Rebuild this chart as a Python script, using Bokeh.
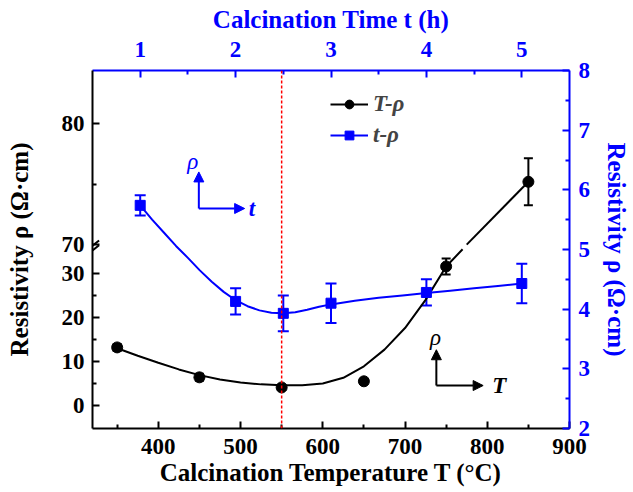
from bokeh.plotting import figure
from bokeh.models import (Range1d, LinearAxis, FixedTicker, Whisker, ColumnDataSource,
                          Span, Arrow, NormalHead, TeeHead, Label, Legend, LegendItem)
from bokeh.embed import file_html
from bokeh.resources import INLINE

# ---------------- data ----------------
# resistivity vs calcination temperature (left axis, broken)
temp_T = [350, 450, 550, 650, 750]
temp_rho = [13.2, 6.4, 4.1, 5.5, 31.6]
temp_err = [0.8, 0.8, 0.6, 0.6, 1.8]
temp_T_high = [850]
temp_rho_high = [75.2]
temp_err_high = [1.95]
# smooth guide curve (lower and upper segments)
fit_T_low = [350, 375, 400, 425, 450, 475, 500, 525, 550, 575, 600, 625, 650, 675, 700,
             725, 750, 770]
fit_rho_low = [13.0, 11.3, 9.7, 8.2, 6.9, 5.9, 5.2, 4.8, 4.6, 4.6, 5.0, 6.3, 8.9, 12.7,
               17.6, 24.0, 31.6, 35.5]
fit_T_high = [775, 850]
fit_rho_high = [70.0, 75.2]

# resistivity vs calcination time (right axis)
time_t = [1, 2, 2.5, 3, 4, 5]
time_rho = [5.74, 4.13, 3.93, 4.10, 4.28, 4.43]
time_err = [0.17, 0.22, 0.30, 0.33, 0.22, 0.33]
fit_t = [1.0, 1.125, 1.25, 1.375, 1.5, 1.625, 1.75, 1.875, 2.0, 2.125, 2.25, 2.375, 2.5,
         2.625, 2.75, 2.875, 3.0, 3.25, 3.5, 3.75, 4.0, 4.25, 4.5, 4.75, 5.0]
fit_rho_t = [5.74, 5.50, 5.28, 5.06, 4.86, 4.65, 4.46, 4.29, 4.15, 4.05, 3.98, 3.94, 3.93,
             3.95, 3.99, 4.04, 4.08, 4.14, 4.19, 4.23, 4.27, 4.31, 4.35, 4.39, 4.43]

# ticks
T_ticks = [400, 500, 600, 700, 800, 900]
T_minor = [350, 450, 550, 650, 750, 850]
t_ticks = [1, 2, 3, 4, 5]
t_minor = [1.5, 2.5, 3.5, 4.5]
right_ticks = [2, 3, 4, 5, 6, 7, 8]
right_minor = [2.5, 3.5, 4.5, 5.5, 6.5, 7.5]
low_ticks = [0, 10, 20, 30]
low_minor = [5, 15, 25]
high_ticks = [70, 80]
high_minor = [75]
optimum_T = 550

# ---------------- ranges ----------------
T_range = Range1d(320, 900)
t_range = Range1d(0.5, 5.5)
right_range = Range1d(2, 8)
low_range = Range1d(-5.23, 76.14)
high_range = Range1d(54.8, 84.4)


def high_to_low(v):
    frac = (v - high_range.start) / (high_range.end - high_range.start)
    return round(low_range.start + frac * (low_range.end - low_range.start), 3)


SERIF = "Liberation Serif"
BLUE = "#0000ff"

p = figure(width=633, height=492, x_range=T_range, y_range=right_range,
           output_backend="svg", toolbar_location=None,
           x_axis_location=None, y_axis_location=None,
           min_border_left=92, min_border_right=62, min_border_top=70, min_border_bottom=64)
p.extra_x_ranges = {"time": t_range}
p.extra_y_ranges = {"low": low_range, "high": high_range}
p.grid.visible = False
p.outline_line_color = None


def style_axis(ax, color, standoff, label_standoff, lh=1.0):
    ax.axis_line_color = color
    ax.axis_line_width = 2
    ax.major_tick_line_color = color
    ax.minor_tick_line_color = color
    ax.major_tick_line_width = 2
    ax.minor_tick_line_width = 2
    ax.major_tick_in = 7
    ax.major_tick_out = 0
    ax.minor_tick_in = 4
    ax.minor_tick_out = 0
    ax.major_label_text_color = color
    ax.major_label_text_font = SERIF
    ax.major_label_text_font_style = "bold"
    ax.major_label_text_font_size = "23px"
    ax.major_label_text_line_height = lh
    ax.major_label_standoff = standoff
    ax.axis_label_text_color = color
    ax.axis_label_text_font = SERIF
    ax.axis_label_text_font_style = "bold"
    ax.axis_label_text_font_size = "25px"
    ax.axis_label_text_line_height = lh
    ax.axis_label_standoff = label_standoff


bottom = LinearAxis(ticker=FixedTicker(ticks=T_ticks, minor_ticks=T_minor),
                    axis_label="Calcination Temperature T (°C)")
style_axis(bottom, "black", 10, 2)
p.add_layout(bottom, "below")

top = LinearAxis(x_range_name="time", ticker=FixedTicker(ticks=t_ticks, minor_ticks=t_minor),
                 axis_label="Calcination Time t (h)")
style_axis(top, BLUE, 14, 6, lh=0.8)
p.add_layout(top, "above")

left_major = low_ticks + [high_to_low(v) for v in high_ticks]
left_minor = low_minor + [high_to_low(v) for v in high_minor]
overrides = {high_to_low(v): str(v) for v in high_ticks}
left = LinearAxis(y_range_name="low",
                  ticker=FixedTicker(ticks=left_major, minor_ticks=left_minor),
                  major_label_overrides=overrides,
                  axis_label="Resistivity ρ (Ω·cm)")
style_axis(left, "black", 8, 26)
p.add_layout(left, "left")

right = LinearAxis(ticker=FixedTicker(ticks=right_ticks, minor_ticks=right_minor),
                   axis_label="Resistivity ρ (Ω·cm)")
style_axis(right, BLUE, 9, 10)
p.add_layout(right, "right")

# dashed marker line at the optimum
p.add_layout(Span(location=optimum_T, dimension="height", line_color="red",
                  line_dash="3 2", line_width=1.5))

# axis-break marks on the left axis (inner halves)
p.segment(x0=[320, 320], y0=[5.063, 4.984], x1=[328, 328], y1=[5.15, 5.07],
          line_color="black", line_width=2)

# ---------------- temperature series ----------------
l_low = p.line(fit_T_low, fit_rho_low, y_range_name="low", line_color="black", line_width=2)
p.line(fit_T_high, fit_rho_high, y_range_name="high", line_color="black", line_width=2)

src_low = ColumnDataSource(dict(x=temp_T, y=temp_rho,
                                lo=[a - b for a, b in zip(temp_rho, temp_err)],
                                hi=[a + b for a, b in zip(temp_rho, temp_err)]))
src_high = ColumnDataSource(dict(x=temp_T_high, y=temp_rho_high,
                                 lo=[a - b for a, b in zip(temp_rho_high, temp_err_high)],
                                 hi=[a + b for a, b in zip(temp_rho_high, temp_err_high)]))
for src, rn in ((src_low, "low"), (src_high, "high")):
    p.add_layout(Whisker(source=src, base="x", lower="lo", upper="hi", y_range_name=rn,
                         line_color="black", line_width=2,
                         upper_head=TeeHead(size=9, line_color="black", line_width=2),
                         lower_head=TeeHead(size=9, line_color="black", line_width=2)))
s_low = p.scatter("x", "y", source=src_low, y_range_name="low", marker="circle", size=11,
                  fill_color="black", line_color="black")
p.scatter("x", "y", source=src_high, y_range_name="high", marker="circle", size=11,
          fill_color="black", line_color="black")

# ---------------- time series ----------------
l_t = p.line(fit_t, fit_rho_t, x_range_name="time", line_color=BLUE, line_width=2)
src_t = ColumnDataSource(dict(x=time_t, y=time_rho,
                              lo=[a - b for a, b in zip(time_rho, time_err)],
                              hi=[a + b for a, b in zip(time_rho, time_err)]))
p.add_layout(Whisker(source=src_t, base="x", lower="lo", upper="hi", x_range_name="time",
                     line_color=BLUE, line_width=2,
                     upper_head=TeeHead(size=11, line_color=BLUE, line_width=2),
                     lower_head=TeeHead(size=11, line_color=BLUE, line_width=2)))
s_t = p.scatter("x", "y", source=src_t, x_range_name="time", marker="square", size=10,
                fill_color=BLUE, line_color=BLUE)

# ---------------- legend ----------------
legend = Legend(items=[LegendItem(label="T-ρ", renderers=[l_low, s_low]),
                       LegendItem(label="t-ρ", renderers=[l_t, s_t])],
                location=(238, 280), glyph_width=38, glyph_height=22, spacing=5,
                padding=0, margin=0, label_standoff=5, border_line_color=None,
                background_fill_alpha=0,
                label_text_font=SERIF, label_text_font_style="bold italic",
                label_text_font_size="23px")
p.add_layout(legend)

# ---------------- direction arrows ----------------
def arrow(x0, y0, x1, y1, color):
    p.add_layout(Arrow(x_start=x0, y_start=y0, x_end=x1, y_end=y1, line_color=color,
                       line_width=2, end=NormalHead(size=10, line_color=color,
                                                    fill_color=color, line_width=1)))

arrow(449.3, 5.687, 449.3, 6.30, BLUE)
arrow(449.3, 5.687, 505.0, 5.687, BLUE)
arrow(738.1, 2.72, 738.1, 3.32, "black")
arrow(738.1, 2.72, 795.0, 2.72, "black")


def txt(x, y, s, color, align="center", style="italic"):
    p.add_layout(Label(x=x, y=y, text=s, text_color=color, text_font=SERIF,
                       text_font_style=style, text_font_size="23px", text_align=align,
                       text_baseline="middle"))

txt(442, 6.47, "ρ", BLUE)
txt(510, 5.687, "t", BLUE, align="left", style="bold italic")
txt(737, 3.52, "ρ", "black")
txt(806, 2.72, "T", "black", align="left", style="bold italic")

open("out.html", "w").write(file_html(p, INLINE))
